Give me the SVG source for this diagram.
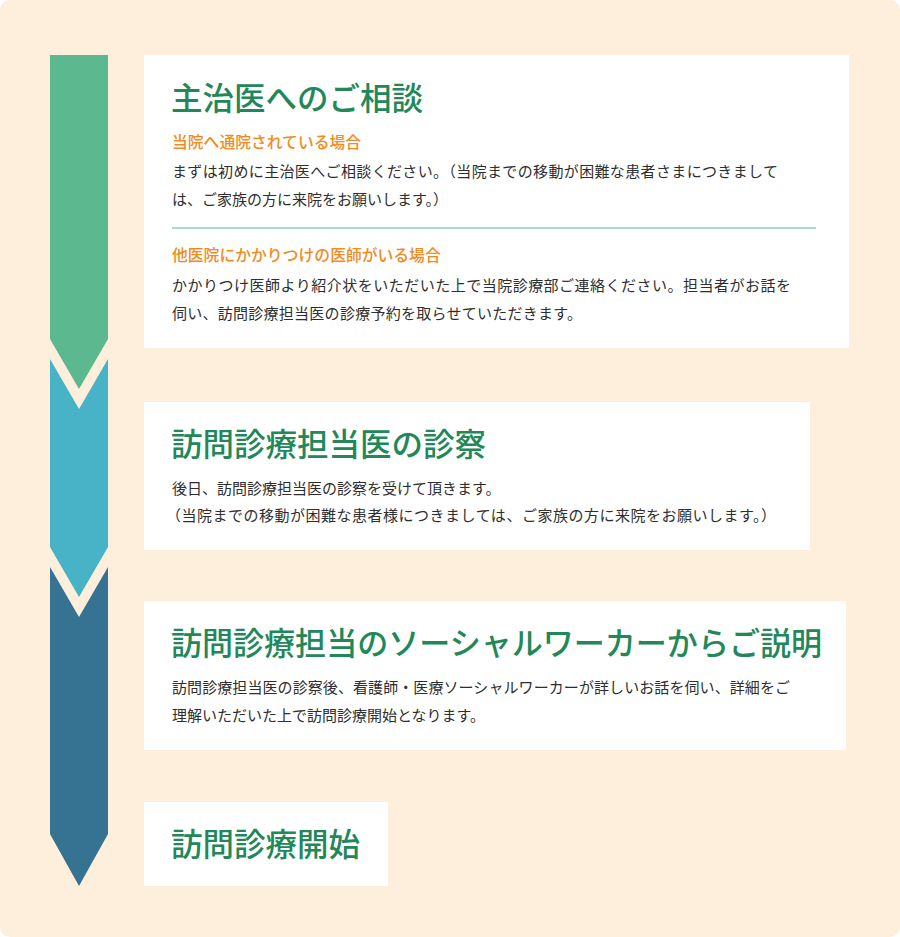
<svg xmlns="http://www.w3.org/2000/svg" width="900" height="937" viewBox="0 0 900 937">
<style>
.t{font-family:"Noto Sans CJK JP","Noto Sans CJK SC",sans-serif;font-weight:500;font-size:31.5px;fill:#228759}
.s{font-family:"Noto Sans CJK JP","Noto Sans CJK SC",sans-serif;font-weight:500;font-size:15.8px;fill:#f28a1c}
.b{font-family:"Noto Sans CJK JP","Noto Sans CJK SC",sans-serif;font-weight:400;font-size:15px;fill:#2e2e2e}
.box{fill:#ffffff}
</style>
<rect x="0" y="0" width="900" height="937" fill="#ffffff"/>
<rect x="0" y="0" width="900" height="937" rx="10" ry="10" fill="#feeedc"/>
<g id="flow-arrows">
<polygon points="50,55 108,55 108,339 79,389 50,339" fill="#5cb88f"/>
<polygon points="50,359 79,409 108,359 108,547 79,597 50,547" fill="#48b2c6"/>
<polygon points="50,567 79,617 108,567 108,834 79,886 50,834" fill="#367291"/>
</g>
<g id="step1">
<rect class="box" x="144" y="55" width="705" height="293"/>
<text class="t" x="171" y="110">主治医へのご相談</text>
<text class="s" x="172" y="147.5">当院へ通院されている場合</text>
<text class="b" x="172" y="176.5" textLength="606" lengthAdjust="spacing">まずは初めに主治医へご相談ください。（当院までの移動が困難な患者さまにつきまして</text>
<text class="b" x="172" y="204.5">は、ご家族の方に来院をお願いします。）</text>
<line x1="172" y1="228" x2="816" y2="228" stroke="#8fd1b9" stroke-width="1.5"/>
<text class="s" x="172" y="261">他医院にかかりつけの医師がいる場合</text>
<text class="b" x="172" y="291" textLength="619" lengthAdjust="spacing">かかりつけ医師より紹介状をいただいた上で当院診療部ご連絡ください。担当者がお話を</text>
<text class="b" x="172" y="319" textLength="410" lengthAdjust="spacing">伺い、訪問診療担当医の診療予約を取らせていただきます。</text>
</g>
<g id="step2">
<rect class="box" x="144" y="402" width="666" height="148"/>
<text class="t" x="171" y="455.5">訪問診療担当医の診察</text>
<text class="b" x="172" y="493.5">後日、訪問診療担当医の診察を受けて頂きます。</text>
<text class="b" x="166" y="521" textLength="610" lengthAdjust="spacing">（当院までの移動が困難な患者様につきましては、ご家族の方に来院をお願いします。）</text>
</g>
<g id="step3">
<rect class="box" x="144" y="601" width="702" height="149"/>
<text class="t" x="171" y="654.5" textLength="651" lengthAdjust="spacingAndGlyphs">訪問診療担当のソーシャルワーカーからご説明</text>
<text class="b" x="172" y="693" textLength="618" lengthAdjust="spacing">訪問診療担当医の診察後、看護師・医療ソーシャルワーカーが詳しいお話を伺い、詳細をご</text>
<text class="b" x="172" y="721">理解いただいた上で訪問診療開始となります。</text>
</g>
<g id="step4">
<rect class="box" x="144" y="802" width="244" height="84"/>
<text class="t" x="171" y="855.5">訪問診療開始</text>
</g>
</svg>
